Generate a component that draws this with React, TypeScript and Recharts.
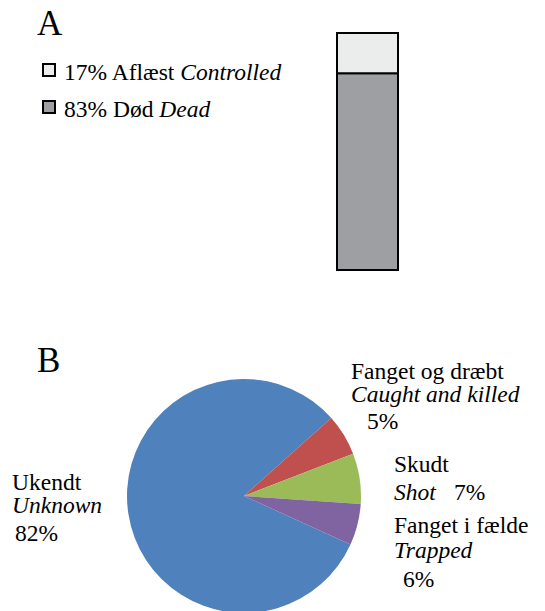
import React from 'react';
import { BarChart, Bar, XAxis, YAxis, PieChart, Pie, Cell } from 'recharts';

// ---- Panel A data ----
const barCategories = ['Status'];
const deadShare = [83];
const controlledShare = [17];
const legendPct = ['17%', '83%'];
const legendDa = ['Aflæst', 'Død'];
const legendEn = ['Controlled', 'Dead'];

// ---- Panel B data ----
const causeDa = ['Ukendt', 'Fanget og dræbt', 'Skudt', 'Fanget i fælde'];
const causeEn = ['Unknown', 'Caught and killed', 'Shot', 'Trapped'];
const causeValues = [81.6, 5.7, 7.0, 5.7];
const causeLabels = ['82%', '5%', '7%', '6%'];

const barData = barCategories.map((c, i) => ({
  name: c,
  dead: deadShare[i],
  controlled: controlledShare[i],
}));
const pieData = causeDa.map((n, i) => ({ name: n, en: causeEn[i], value: causeValues[i] }));

const PIE_COLORS = ['#4f81bd', '#c0504d', '#9bbb59', '#8064a2'];
const LEGEND_FILLS = ['#ebedec', '#9d9fa3'];
const FONT = "'Liberation Serif'";
const TXT = 23.5;

// Absolute HTML text placed by its baseline (x, y); laid out at 2x and scaled down
const L = (props: any) => {
  const { x, y, italic, size = TXT, children } = props;
  const big = size * 2;
  return (
    <div
      style={{
        position: 'absolute',
        left: x,
        top: y - 0.8375 * size,
        width: 0,
        height: 0,
        overflow: 'visible',
      }}
    >
      <div
        style={{
          fontFamily: FONT,
          fontSize: big,
          lineHeight: `${big}px`,
          fontStyle: italic ? 'italic' : 'normal',
          color: '#000',
          whiteSpace: 'nowrap',
          transform: 'scale(0.5)',
          transformOrigin: '0 0',
        }}
      >
        {children}
      </div>
    </div>
  );
};

export default function App() {
  return (
    <div
      style={{
        position: 'absolute',
        left: 0,
        top: 0,
        width: 545,
        height: 611,
        background: '#fff',
        overflow: 'hidden',
        fontFamily: FONT,
      }}
    >
      <div style={{ position: 'absolute', left: 0, top: 0 }}>
        <PieChart width={545} height={611} margin={{ top: 0, right: 0, bottom: 0, left: 0 }}>
          <Pie
            data={pieData}
            dataKey="value"
            nameKey="name"
            cx={244}
            cy={496}
            outerRadius={117}
            startAngle={335.5}
            endAngle={-24.5}
            stroke="none"
            isAnimationActive={false}
          >
            {pieData.map((d, i) => (
              <Cell key={d.name} fill={PIE_COLORS[i]} />
            ))}
          </Pie>
        </PieChart>
      </div>

      <div style={{ position: 'absolute', left: 320, top: 20 }}>
        <BarChart
          width={94}
          height={260}
          data={barData}
          margin={{ top: 13, right: 0, bottom: 10, left: 0 }}
        >
          <XAxis dataKey="name" hide />
          <YAxis hide domain={[0, 100]} />
          <Bar
            dataKey="dead"
            stackId="a"
            fill="#9d9fa3"
            stroke="#000"
            strokeWidth={2}
            barSize={61}
            isAnimationActive={false}
          />
          <Bar
            dataKey="controlled"
            stackId="a"
            fill="#ebedec"
            stroke="#000"
            strokeWidth={2}
            barSize={61}
            isAnimationActive={false}
          />
        </BarChart>
      </div>

      <L x={37} y={35} size={35}>A</L>
      <L x={37} y={372} size={35}>B</L>

      {legendPct.map((p, i) => (
        <React.Fragment key={p}>
          <div
            style={{
              position: 'absolute',
              left: 42,
              top: 63 + i * 37,
              width: 10,
              height: 10,
              background: LEGEND_FILLS[i],
              border: '2.5px solid #000',
            }}
          />
          <L x={64} y={80 + i * 37}>
            {`${p} ${legendDa[i]} `}
            <i>{legendEn[i]}</i>
          </L>
        </React.Fragment>
      ))}

      {/* Ukendt */}
      <L x={12} y={490}>{causeDa[0]}</L>
      <L x={12} y={513} italic>{causeEn[0]}</L>
      <L x={15} y={541}>{causeLabels[0]}</L>

      {/* Fanget og dræbt */}
      <L x={351} y={379}>{causeDa[1]}</L>
      <L x={351} y={402} italic>{causeEn[1]}</L>
      <L x={367} y={429}>{causeLabels[1]}</L>

      {/* Skudt */}
      <L x={394} y={472}>{causeDa[2]}</L>
      <L x={394} y={500} italic>{causeEn[2]}</L>
      <L x={454} y={500}>{causeLabels[2]}</L>

      {/* Fanget i fælde */}
      <L x={394} y={533}>{causeDa[3]}</L>
      <L x={394} y={558} italic>{causeEn[3]}</L>
      <L x={403} y={587}>{causeLabels[3]}</L>
    </div>
  );
}
